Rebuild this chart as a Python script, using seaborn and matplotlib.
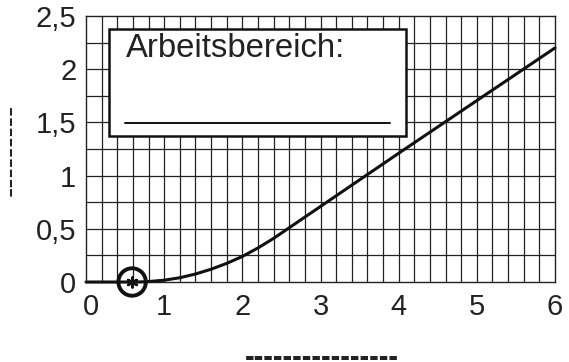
import matplotlib
matplotlib.use("Agg")
import matplotlib.pyplot as plt
import matplotlib.transforms as mtrans
import seaborn as sns
import pandas as pd
from matplotlib.patches import Rectangle

# data
x_vals = [0.0, 0.65, 0.8, 1.0, 1.2, 1.4, 1.6, 1.8, 2.0, 2.2, 2.4, 2.6, 2.8, 3.0, 3.5, 4.0, 5.0, 6.0]
y_vals = [0.0, 0.0, 0.004, 0.017, 0.04, 0.075, 0.12, 0.175, 0.24, 0.32, 0.41, 0.51, 0.61, 0.71, 0.96, 1.21, 1.705, 2.2]
marker_x = [0.59]
marker_y = [0.0]
x_ticks = [0, 1, 2, 3, 4, 5, 6]
x_ticklabels = ["0", "1", "2", "3", "4", "5", "6"]
y_ticks = [0, 0.5, 1, 1.5, 2, 2.5]
y_ticklabels = ["0", "0,5", "1", "1,5", "2", "2,5"]
box_title = "Arbeitsbereich:"
x_label = "-" * 16
y_label = "-" * 9

sns.set_style("white")
plt.rcParams['font.family'] = ['Liberation Sans', 'DejaVu Sans']

fig = plt.figure(figsize=(5.69, 3.62), dpi=100)
ax = fig.add_axes([86/569, 80/362, 469/569, 266/362])

df = pd.DataFrame({"x": x_vals, "y": y_vals})
sns.lineplot(data=df, x="x", y="y", ax=ax, color="#111111", linewidth=2.2, zorder=5, clip_on=False)

ax.set_xlim(0, 6)
ax.set_ylim(0, 2.5)

# grid
for gx in [i * 0.2 for i in range(1, 30)]:
    ax.axvline(gx, color="#222222", linewidth=0.9, zorder=1)
for gy in [i * 0.25 for i in range(1, 10)]:
    ax.axhline(gy, color="#222222", linewidth=0.9, zorder=1)

for s in ax.spines.values():
    s.set_visible(True)
    s.set_color("#222222")
    s.set_linewidth(1.0)

ax.set_xticks(x_ticks)
ax.set_xticklabels(x_ticklabels)
ax.set_yticks(y_ticks)
ax.set_yticklabels(y_ticklabels)
ax.tick_params(axis="both", labelsize=21, length=0, pad=7, colors="#222222")
ax.tick_params(axis="x", pad=8)
ax.set_xlabel("")
ax.set_ylabel("")

lab0 = ax.get_xticklabels()[0]
lab0.set_transform(lab0.get_transform() + mtrans.ScaledTranslation(5/100, 0, fig.dpi_scale_trans))

# marker
ax.scatter(marker_x, marker_y, s=390, facecolors="none", edgecolors="#111111", linewidths=2.8, zorder=7, clip_on=False)
ax.scatter(marker_x, marker_y, s=50, marker=(6, 2, 0), color="#111111", linewidths=1.8, zorder=8, clip_on=False)

# box
box = Rectangle((0.049, 0.549), 0.633, 0.402, transform=ax.transAxes, facecolor="white",
                edgecolor="#111111", linewidth=1.8, zorder=3)
ax.add_patch(box)
ax.text(0.085, 0.845, box_title, transform=ax.transAxes, fontsize=23.7, color="#222222",
        ha="left", va="baseline", zorder=4)
ax.plot([0.084, 0.649], [0.598, 0.598], transform=ax.transAxes, color="#111111", linewidth=1.4, zorder=4)

fig.text(322/569, -4/362, x_label, fontsize=21, ha="center", va="baseline", color="#222222",
         fontweight="bold")
fig.text(11/569, 212/362, y_label, fontsize=22, ha="center", va="center", rotation=90, color="#222222")

fig.savefig("out.png", dpi=100, facecolor="white")
